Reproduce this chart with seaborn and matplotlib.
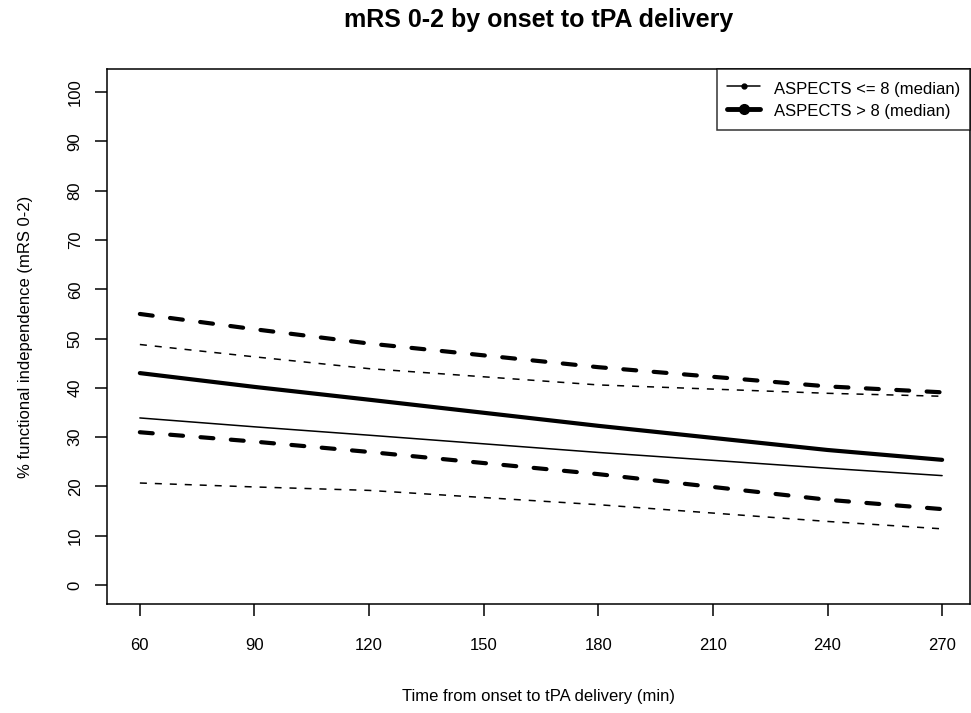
import matplotlib
matplotlib.use("Agg")
import matplotlib.pyplot as plt
from matplotlib.lines import Line2D
import pandas as pd
import seaborn as sns

# onset-to-tPA time (min) where the curves were read
minutes = [60, 90, 120, 180, 240, 270]

# ASPECTS > 8 (thick lines): estimate and 95% band
high_mid = [43.0, 40.2, 37.6, 32.3, 27.4, 25.4]
high_upper = [55.0, 51.9, 49.0, 44.2, 40.3, 39.1]
high_lower = [31.0, 29.1, 27.0, 22.5, 17.3, 15.4]

# ASPECTS <= 8 (thin lines): estimate and 95% band
low_mid = [33.9, 32.1, 30.4, 26.9, 23.7, 22.2]
low_upper = [48.8, 46.3, 43.9, 40.6, 38.9, 38.3]
low_lower = [20.7, 19.9, 19.2, 16.3, 12.9, 11.4]

x_ticks = [60, 90, 120, 150, 180, 210, 240, 270]
y_ticks = list(range(0, 101, 10))
legend_labels = ["ASPECTS <= 8 (median)", "ASPECTS > 8 (median)"]

sns.set_theme(style="white")
plt.rcParams["font.family"] = ["Liberation Sans", "DejaVu Sans"]

fig = plt.figure(figsize=(9.71, 7.13), dpi=100)
ax = fig.add_axes([107 / 971, 1 - 604 / 713, (970 - 107) / 971, (604 - 69) / 713])

df = pd.DataFrame({
    "minutes": minutes,
    "high_mid": high_mid, "high_upper": high_upper, "high_lower": high_lower,
    "low_mid": low_mid, "low_upper": low_upper, "low_lower": low_lower,
})

thin_dash = (0, (4.6, 5.2))
thick_dash = (0, (3.1, 4.2))

for col in ["low_upper", "low_lower"]:
    sns.lineplot(data=df, x="minutes", y=col, ax=ax, color="black", lw=1.1,
                 linestyle=thin_dash, errorbar=None)
sns.lineplot(data=df, x="minutes", y="low_mid", ax=ax, color="black", lw=1.1,
             errorbar=None)
for col in ["high_upper", "high_lower"]:
    sns.lineplot(data=df, x="minutes", y=col, ax=ax, color="black", lw=3.0,
                 linestyle=thick_dash, dash_capstyle="round", errorbar=None)
sns.lineplot(data=df, x="minutes", y="high_mid", ax=ax, color="black", lw=3.0,
             solid_capstyle="round", errorbar=None)

ax.set_xlim(51.4, 277.3)
ax.set_ylim(-3.85, 104.7)
ax.set_xticks(x_ticks)
ax.set_yticks(y_ticks)
ax.tick_params(axis="both", direction="out", length=8.5, width=1.1, color="black",
               labelsize=12, labelcolor="black", bottom=True, left=True)
ax.tick_params(axis="x", pad=16)
ax.tick_params(axis="y", pad=9, labelrotation=90)
for lab in ax.get_yticklabels():
    lab.set_va("center")
for sp in ax.spines.values():
    sp.set_color("black")
    sp.set_linewidth(1.1)

ax.set_xlabel("Time from onset to tPA delivery (min)", fontsize=12, color="black", labelpad=26)
ax.set_ylabel("% functional independence (mRS 0-2)", fontsize=12, color="black", labelpad=25)
fig.suptitle("mRS 0-2 by onset to tPA delivery", x=538.5 / 971, y=1 - 20 / 713, va="center",
             fontsize=18, fontweight="bold", color="black")

handles = [
    Line2D([], [], color="black", lw=1.1, marker="o", markersize=3.5),
    Line2D([], [], color="black", lw=3.5, marker="o", markersize=7),
]
leg = ax.legend(handles, legend_labels, loc="upper right", bbox_to_anchor=(1, 1),
                borderaxespad=0, fontsize=12, frameon=True, fancybox=False,
                handlelength=2.0, handleheight=1.35, handletextpad=0.8,
                labelspacing=0.22, borderpad=0.6)
leg.get_frame().set_edgecolor("black")
leg.get_frame().set_linewidth(1.1)
for t in leg.get_texts():
    t.set_color("black")

fig.savefig("out.png", dpi=100)
